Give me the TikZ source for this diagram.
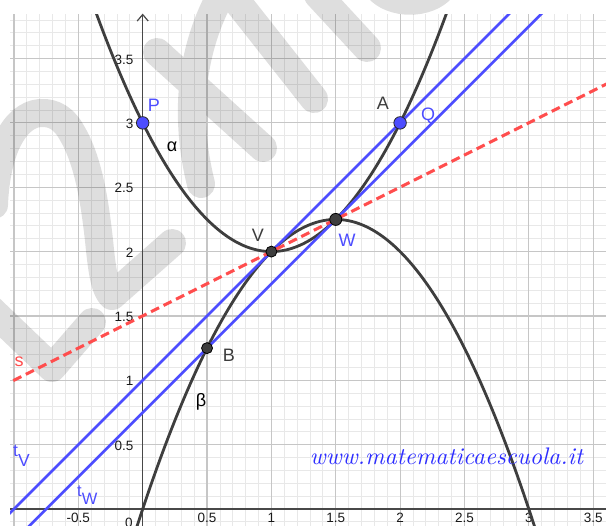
\documentclass[tikz,border=0pt]{standalone}
\usepackage{fontspec}
\newfontfamily\ggb{Liberation Sans}
\definecolor{curvec}{RGB}{62,62,62}
\definecolor{axisc}{RGB}{72,72,72}
\definecolor{linec}{RGB}{77,77,255}
\definecolor{redc}{RGB}{255,77,77}
\definecolor{majorc}{RGB}{198,198,198}
\definecolor{minorc}{RGB}{232,232,232}
\definecolor{urlc}{RGB}{45,45,255}
\definecolor{ptlab}{RGB}{60,60,60}
\tikzset{
  minorgrid/.style={draw=minorc, line width=0.8pt},
  majorgrid/.style={draw=majorc, line width=1.2pt},
  axisline/.style={draw=axisc, line width=1.5pt},
  curveline/.style={draw=curvec, line width=2.8pt},
  tangent/.style={draw=linec, line width=2.6pt},
  secant/.style={draw=redc, line width=3pt, dash pattern=on 9pt off 5pt},
  bluept/.style={circle, fill=linec, draw=black!85, line width=0.8pt, minimum size=12.5pt, inner sep=0pt},
  darkpt/.style={circle, fill=curvec, draw=black, line width=0.8pt, minimum size=11pt, inner sep=0pt},
  ticklab/.style={inner sep=0pt, font=\ggb\fontsize{13.5}{16}\selectfont, text=black!90},
  ptlabel/.style={inner sep=0pt, font=\ggb\fontsize{18}{21}\selectfont},
  wmark/.style={draw=black, draw opacity=0.13, line width=28pt, line cap=round, line join=round},
}
\begin{document}
\begin{tikzpicture}[x=1pt,y=-1pt]
\useasboundingbox (0,0) rectangle (606,526);
\fill[white] (0,0) rectangle (606,526);
% grid
\begin{scope}[shift={(142.7pt,-509pt)},x=128.7pt,y=128.7pt]
  \coordinate (gridSW) at (-1.031,-0.15);
  \coordinate (gridNE) at (3.62,3.846);
  \begin{scope}
    \clip (gridSW) rectangle (gridNE);
    \draw[minorgrid] (gridSW) grid[step=0.1] (gridNE);
    \draw[majorgrid] (gridSW) grid[step=0.5] (gridNE);
  \end{scope}
\end{scope}
% watermark
\draw[wmark]
  (-6,205) .. controls (-4,150) and (15,115) .. (40,113) .. controls (55,112) and (65,120) .. (72,133) .. controls (88,160) and (95,200) .. (100,250) .. controls (103,278) and (106,290) .. (112,296) -- (172,243)
  (-20,299) -- (52,368) -- (92,322)
  (157,52) -- (263,148)
  (201,184) .. controls (185,120) and (188,50) .. (226,-14)
  (232,-5) -- (314,99)
  (318,-5) -- (367,48)
  (378,-12) .. controls (392,5) and (428,5) .. (442,-12);
% plot
\begin{scope}[shift={(142.7pt,-509pt)},x=128.7pt,y=128.7pt]
  \coordinate (xaxL) at (-1.031,0);
  \coordinate (xaxR) at (3.62,0);
  \coordinate (yaxB) at (0,-0.15);
  \coordinate (yaxT) at (0,3.842);
  \draw[axisline] (xaxL) -- (xaxR);
  \draw[axisline] (yaxB) -- (yaxT);
  \draw[axisline, line width=1.2pt] ([xshift=-5.5pt,yshift=-6.5pt]yaxT) -- (yaxT) -- ([xshift=5.5pt,yshift=-6.5pt]yaxT);
  % tick labels
  \node[ticklab, anchor=east] (yl1) at ([xshift=-9pt,yshift=-1pt]0,0.5) {0.5};
  \node[ticklab, anchor=east] (yl2) at ([xshift=-9pt,yshift=-1pt]0,1) {1};
  \node[ticklab, anchor=east] (yl3) at ([xshift=-9pt,yshift=-1pt]0,1.5) {1.5};
  \node[ticklab, anchor=east] (yl4) at ([xshift=-9pt,yshift=-1pt]0,2) {2};
  \node[ticklab, anchor=east] (yl5) at ([xshift=-9pt,yshift=-1pt]0,2.5) {2.5};
  \node[ticklab, anchor=east] (yl6) at ([xshift=-9pt,yshift=-1pt]0,3) {3};
  \node[ticklab, anchor=east] (yl7) at ([xshift=-9pt,yshift=-1pt]0,3.5) {3.5};
  \node[ticklab] (xl0) at ([yshift=-8.5pt]-0.5,0) {-0.5};
  \node[ticklab] (xl1) at ([yshift=-8.5pt]0.5,0) {0.5};
  \node[ticklab] (xl2) at ([yshift=-8.5pt]1,0) {1};
  \node[ticklab] (xl3) at ([yshift=-8.5pt]1.5,0) {1.5};
  \node[ticklab] (xl4) at ([yshift=-8.5pt]2,0) {2};
  \node[ticklab] (xl5) at ([yshift=-8.5pt]2.5,0) {2.5};
  \node[ticklab] (xl6) at ([yshift=-8.5pt]3,0) {3};
  \node[ticklab] (xl7) at ([yshift=-8.5pt]3.5,0) {3.5};
  \node[ticklab] (orig) at ([xshift=-13.7pt,yshift=-14pt]0,0) {0};
  \begin{scope}
    \clip (gridSW) rectangle (gridNE);
    \draw[curveline] plot[domain=-0.4:2.4, samples=121, smooth] (\x,{\x*\x-2*\x+3});
    \draw[curveline] plot[domain=-0.06:3.06, samples=121, smooth] (\x,{-\x*\x+3*\x});
    \coordinate (tVa) at (-1.2,-0.2);
    \coordinate (tVb) at (3,4);
    \coordinate (tWa) at (-1.0,-0.25);
    \coordinate (tWb) at (3.2,3.95);
    \coordinate (sa) at (-1.2,0.9);
    \coordinate (sb) at (3.8,3.4);
    \draw[tangent] (tVa) -- (tVb);
    \draw[tangent] (tWa) -- (tWb);
    \draw[secant] (sa) -- (sb);
  \end{scope}
  \node[bluept] (P) at (0,3) {};
  \node[bluept] (Q) at (2,3) {};
  \node[darkpt] (V) at (1,2) {};
  \node[darkpt, minimum size=12pt] (W) at (1.5,2.25) {};
  \node[darkpt] (B) at (0.5,1.25) {};
\end{scope}
% labels
\node[ptlabel, text=linec] (Plab) at (154,105) {P};
\node[ptlabel, text=ptlab] (Alab) at (383,103.5) {A};
\node[ptlabel, text=linec] (Qlab) at (428,116) {Q};
\node[ptlabel, text=ptlab] (Vlab) at (258,235) {V};
\node[ptlabel, text=linec] (Wlab) at (347,240) {W};
\node[ptlabel, text=ptlab] (Blab) at (229,355) {B};
\node[ptlabel, text=black] (alab) at (172,147) {α};
\node[ptlabel, text=black] (blab) at (201,402) {β};
\node[ptlabel, text=redc] (slab) at (19,362) {s};
\node[inner sep=0pt, anchor=base west, text=linec, font=\ggb\fontsize{17.5}{20}\selectfont] (tVlab) at (13,457) {t\raisebox{-10pt}{V}};
\node[inner sep=0pt, anchor=base west, text=linec, font=\ggb\fontsize{16.5}{20}\selectfont] (tWlab) at (77,497) {t\raisebox{-8pt}{W}};
\node[inner sep=0pt, anchor=base, text=urlc] (url) at (446.5,465) {\resizebox{273pt}{!}{\itshape www.matematicaescuola.it}};
\end{tikzpicture}
\end{document}
